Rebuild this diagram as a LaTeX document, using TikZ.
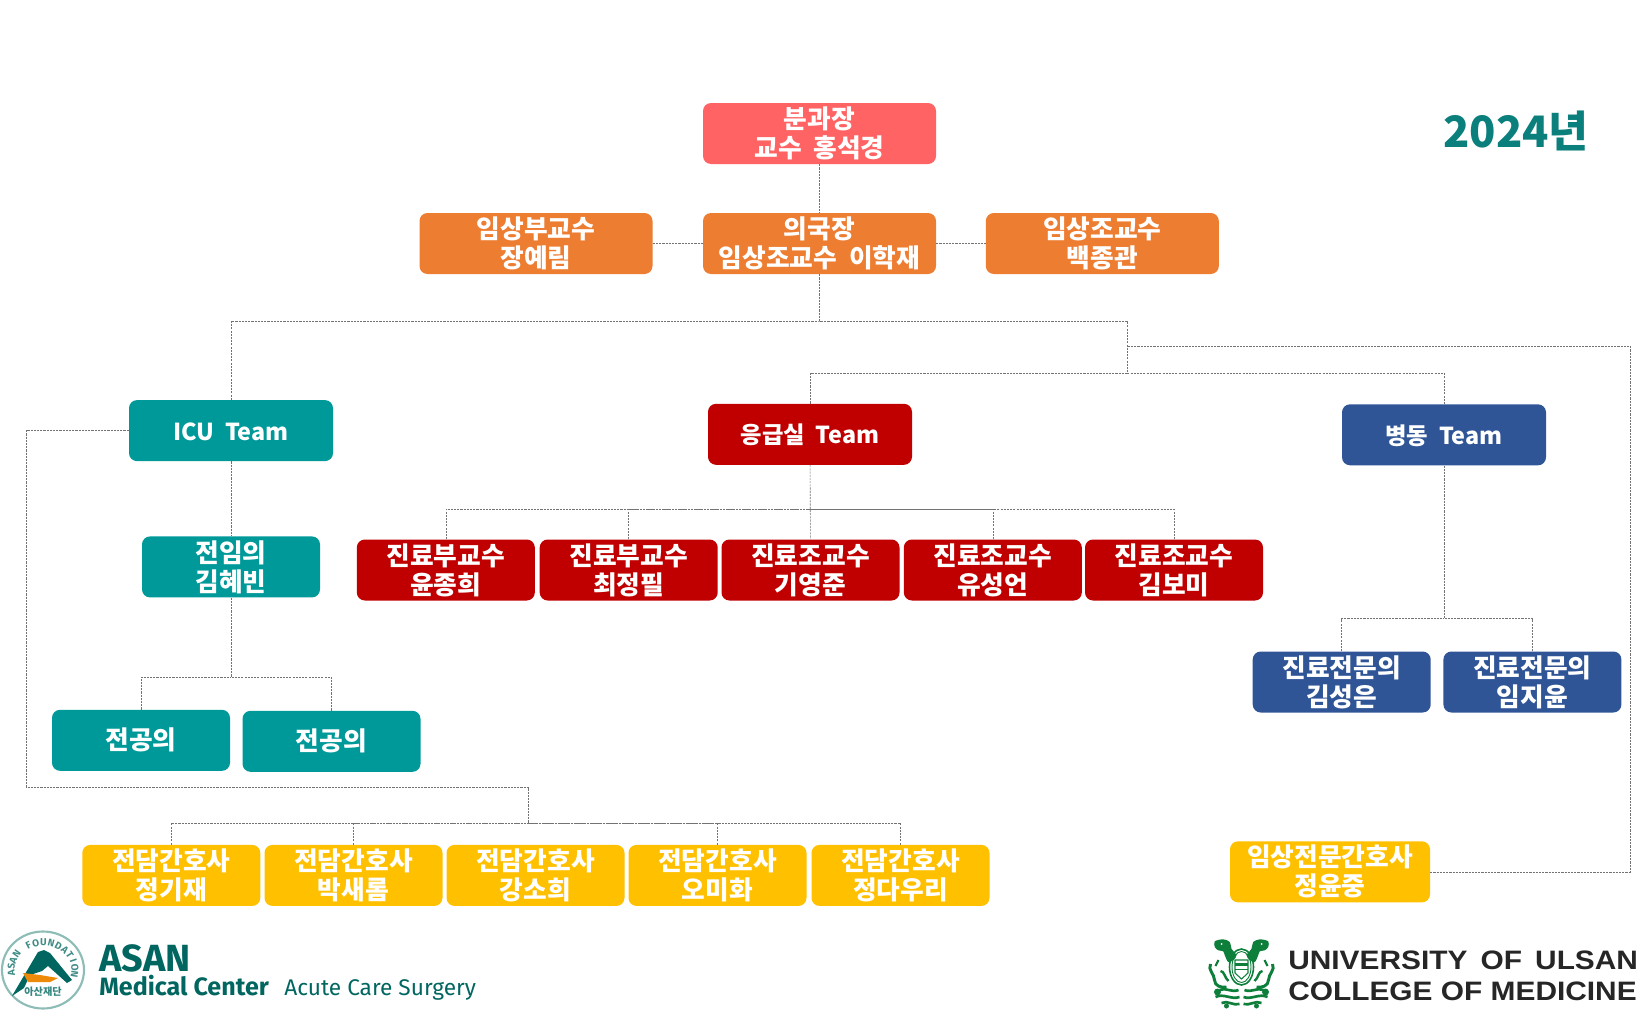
\documentclass[tikz,border=0pt]{standalone}
\usepackage{fontspec}
\setmainfont{Noto Sans CJK KR}[WordSpace=2]
\newfontfamily\asanfont{Fira Sans}
\newfontfamily\ulsanfont{Liberation Sans}[FakeStretch=1.12]
\usetikzlibrary{calc}

\definecolor{chiefred}{HTML}{FF6363}
\definecolor{deputyorange}{HTML}{ED7D31}
\definecolor{icuteal}{HTML}{009999}
\definecolor{erred}{HTML}{C00000}
\definecolor{wardblue}{HTML}{2F5597}
\definecolor{nurseyellow}{HTML}{FFC000}
\definecolor{yeartext}{HTML}{0B7F7C}
\definecolor{asangreen}{HTML}{00665F}
\definecolor{asanring}{HTML}{8DBDB6}
\definecolor{asanorange}{HTML}{EE8A0A}
\definecolor{crestgreen}{HTML}{0E7F3A}

\newcommand{\teamlabel}[1]{\raisebox{-0.7pt}[0.73em][0pt]{#1}}

\tikzset{
	box/.style = {rounded corners = 6pt, inner sep = 0pt, align = center, text = white,
		minimum height = 61*0.75pt, font = \fontsize{19.3pt}{21.8pt}\selectfont\bfseries},
	wide/.style = {box, minimum width = 233*0.75pt},
	team/.style = {box, minimum width = 204*0.75pt, font = \fontsize{17.5pt}{21pt}\selectfont\bfseries},
	staff/.style = {box, minimum width = 178*0.75pt},
	link/.style = {draw = black!55, dash pattern = on 1.6pt off 0.8pt, line width = 0.45pt},
	logotext/.style = {anchor = base west, inner sep = 0pt}
}

\begin{document}
\begin{tikzpicture}[x = 0.75pt, y = -0.75pt]
	\useasboundingbox (0,0) rectangle (1643,1028);

	\node [wide, fill = chiefred] (chief) at (819.5,133.5) {분과장\\교수 홍석경};
	\node [wide, fill = deputyorange] (deputy) at (819.5,243.5) {의국장\\임상조교수 이학재};
	\node [wide, fill = deputyorange] (assoc) at (536,243.5) {임상부교수\\장예림};
	\node [wide, fill = deputyorange] (assist) at (1102.3,243.5) {임상조교수\\백종관};

	\node [team, fill = icuteal] (icu) at (231,430.6) {\teamlabel{ICU Team}};
	\node [team, fill = erred] (er) at (810,434.3) {\teamlabel{응급실 Team}};
	\node [team, fill = wardblue] (ward) at (1444,434.8) {\teamlabel{병동 Team}};

	\node [staff, fill = icuteal] (fellow) at (231,566.9) {전임의\\김혜빈};
	\node [staff, fill = icuteal] (resa) at (141,740.3) {전공의};
	\node [staff, fill = icuteal] (resb) at (331.5,741.3) {전공의};

	\node [staff, fill = erred] (era) at (445.8,570) {진료부교수\\윤종희};
	\node [staff, fill = erred] (erb) at (628.7,570) {진료부교수\\최정필};
	\node [staff, fill = erred] (erc) at (810.5,570) {진료조교수\\기영준};
	\node [staff, fill = erred] (erd) at (992.8,570) {진료조교수\\유성언};
	\node [staff, fill = erred] (ere) at (1174,570) {진료조교수\\김보미};

	\node [staff, fill = wardblue] (warda) at (1341.7,682) {진료전문의\\김성은};
	\node [staff, fill = wardblue] (wardb) at (1532.4,682) {진료전문의\\임지윤};

	\node [staff, fill = nurseyellow] (nursea) at (171.3,875.4) {전담간호사\\정기재};
	\node [staff, fill = nurseyellow] (nurseb) at (353.5,875.4) {전담간호사\\박새롬};
	\node [staff, fill = nurseyellow] (nursec) at (535.5,875.4) {전담간호사\\강소희};
	\node [staff, fill = nurseyellow] (nursed) at (717.5,875.4) {전담간호사\\오미화};
	\node [staff, fill = nurseyellow] (nursee) at (900.5,875.4) {전담간호사\\정다우리};

	\node [box, fill = nurseyellow, minimum width = 200*0.75pt] (cns) at (1330,871.8) {임상전문간호사\\정윤중};

	\node [text = yeartext, font = \fontsize{32.5pt}{36pt}\selectfont\bfseries] (year) at (1516,131) {2024년};

	\coordinate (split) at (819.5,321);
	\coordinate (join) at (1127,373);
	\coordinate (cnsup) at (1630,346);
	\coordinate (cnsin) at (1127,346);
	\coordinate (erbus) at (810,509);
	\coordinate (wardbus) at (1444,618.5);
	\coordinate (resbus) at (231,677);
	\coordinate (nursedown) at (26,787);
	\coordinate (nursebus) at (528.6,823);

	\begin{scope}[link]
		\draw (chief) -- (deputy);
		\draw (assoc) -- (deputy);
		\draw (deputy) -- (assist);
		\draw (deputy) -- (split);
		\draw (icu) |- (split) -| (join);
		\draw (er) |- (join);
		\draw (ward) |- (join);
		\draw (cns) -| (cnsup) -- (cnsin);

		\draw (icu) -- (fellow);
		\draw (fellow) -- (resbus);
		\draw (resa) |- (resbus);
		\draw (resb) |- (resbus);
		\draw (icu) -| (nursedown) -| (nursebus);
		\draw (nursea) |- (nursebus);
		\draw (nurseb) |- (nursebus);
		\draw (nursed) |- (nursebus);
		\draw (nursee) |- (nursebus);

		\draw (er) -- (erc);
		\draw (era) |- (erbus);
		\draw (erb) |- (erbus);
		\draw (erd) |- (erbus);
		\draw (ere) |- (erbus);

		\draw (ward) -- (wardbus);
		\draw (warda) |- (wardbus);
		\draw (wardb) |- (wardbus);
	\end{scope}

	% asan emblem
	\begin{scope}
		\draw [asanring, line width = 1.6pt] (43,970) ellipse [x radius = 41, y radius = 38.5];
		\fill [asangreen] (12,996) -- (38,952) -- (44,950) -- (50,953) -- (72,980) -- (67,983)
			-- (48,966) -- (42,971) -- (30,975) -- (24,988) -- cycle;
		\fill [asanorange] (23,973) -- (40,975) -- (58,978) -- (50,982) -- (28,982) -- cycle;
		\foreach \letter [count = \i] in {A,S,A,N,,F,O,U,N,D,A,T,I,O,N} {
			\node [text = asangreen!75, inner sep = 0pt, rotate = {97-14*(\i-1)},
				font = \asanfont\bfseries\fontsize{7.5pt}{7.5pt}\selectfont] (seal\i)
				at ({43+32*cos(187-14*(\i-1))},{970-27.5*sin(187-14*(\i-1))}) {\letter};
		}
		\node [text = asangreen!80, font = \fontsize{7.6pt}{8pt}\selectfont\bfseries] (asankr) at (43,992) {아산재단};
	\end{scope}

	\node [logotext, text = asangreen, font = \asanfont\fontsize{28.4pt}{28pt}\selectfont\bfseries] (asan) at (99,971) {ASAN};
	\node [logotext, text = asangreen, font = \asanfont\fontsize{18.8pt}{19pt}\selectfont\bfseries] (amc) at (99,995) {Medical Center};
	\node [logotext, text = asangreen, font = \asanfont\fontsize{17pt}{18pt}\selectfont] (acs) at (284,995) {Acute Care Surgery};

	% ulsan crest
	\begin{scope}[crestgreen]
		\foreach \side in {1,-1} {
			\begin{scope}[shift = {(1241.5,0)}, xscale = \side]
				\fill plot [smooth cycle] coordinates {(-26.7,941.3) (-18.3,939.3) (-11.7,942) (-10,948.7)
					(-5,955.3) (-8.3,960.3) (-13.3,962) (-16.7,955.3) (-18.3,951.3) (-23.3,950.3) (-26.7,947)};
				\fill [white] (-20,944) circle [radius = 1];
				\draw [line width = 2.2pt] (-31,964) .. controls (-34,970) and (-27,974) .. (-27,980)
					.. controls (-27,986) and (-20,988) .. (-15,987);
				\draw [line width = 1.8pt] (-21,971) .. controls (-17,971) and (-17,978) .. (-13,981);
				\draw [line width = 1.6pt] (-26,966) -- (-23,960);
				\draw [line width = 2pt] (-22,990) .. controls (-16,987) and (-10,993) .. (-3,990);
				\draw [line width = 2pt] (-26,997) .. controls (-18,993) and (-10,1000) .. (-2,997);
				\draw [line width = 2pt] (-20,1003) .. controls (-14,1000) and (-8,1006) .. (-2,1004);
				\fill (-24,992) circle [radius = 3.5];
				\fill (-15,1006) circle [radius = 2.5];
			\end{scope}
		}
		\draw [line width = 1.2pt] (1241.5,967) ellipse [x radius = 12, y radius = 18];
		\draw [line width = 0.7pt] (1241.5,967) ellipse [x radius = 9.5, y radius = 15.5];
		\draw [line width = 0.8pt] (1235,960) -- (1248,960) -- (1248,973)
			-- (1241.5,979) -- (1235,973) -- cycle;
		\fill (1235,963) rectangle (1248,966);
		\draw [line width = 0.6pt] (1235,969) -- (1248,969);
	\end{scope}

	\node [logotext, text = black!85, font = \ulsanfont\fontsize{20pt}{20pt}\selectfont\bfseries] (ulsan) at (1288,969) {UNIVERSITY\hspace{0.18em} OF\hspace{0.18em} ULSAN};
	\node [logotext, text = black!85, font = \ulsanfont\fontsize{20pt}{20pt}\selectfont\bfseries] (college) at (1288,1000.5) {COLLEGE OF MEDICINE};
\end{tikzpicture}
\end{document}
